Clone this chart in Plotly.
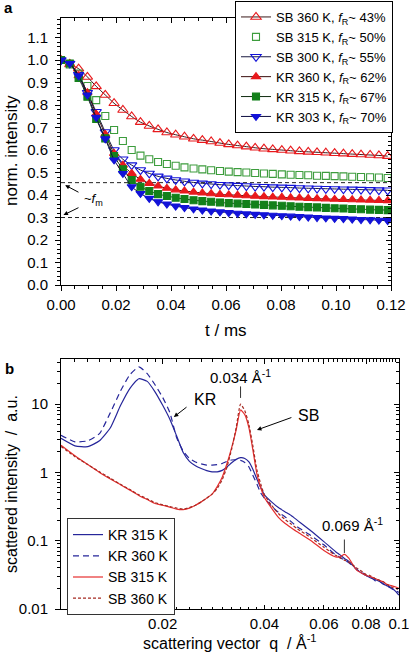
import numpy as np
import plotly.graph_objects as go

W, H = 409, 660
FONT = "Arial, 'Liberation Sans', sans-serif"

# ---------------- panel a : decay curves ----------------
t_ms = [0.0, 0.0032, 0.0064, 0.0096, 0.0128, 0.0161, 0.0193, 0.0225, 0.0257, 0.0289,
        0.0321, 0.0353, 0.0385, 0.0417, 0.0449, 0.0482, 0.0514, 0.0546, 0.0578, 0.061,
        0.0642, 0.0674, 0.0706, 0.0738, 0.077, 0.0803, 0.0835, 0.0867, 0.0899, 0.0931,
        0.0963, 0.0995, 0.1027, 0.1059, 0.1091, 0.1124, 0.1156, 0.1188]

sb360_a = [1.000, 0.980, 0.962, 0.925, 0.883, 0.845, 0.808, 0.778, 0.749, 0.724,
           0.707, 0.692, 0.678, 0.668, 0.659, 0.650, 0.644, 0.638, 0.631, 0.625,
           0.620, 0.615, 0.610, 0.606, 0.603, 0.600, 0.597, 0.594, 0.592, 0.590,
           0.588, 0.586, 0.584, 0.582, 0.580, 0.578, 0.576, 0.573]
sb315_a = [1.000, 0.980, 0.940, 0.885, 0.822, 0.751, 0.689, 0.640, 0.600, 0.575,
           0.559, 0.547, 0.538, 0.530, 0.523, 0.518, 0.514, 0.510, 0.507, 0.504,
           0.502, 0.500, 0.498, 0.496, 0.494, 0.492, 0.490, 0.489, 0.488, 0.486,
           0.485, 0.484, 0.483, 0.481, 0.480, 0.479, 0.478, 0.476]
sb300_a = [1.000, 0.985, 0.935, 0.855, 0.770, 0.680, 0.600, 0.559, 0.533, 0.511,
           0.496, 0.483, 0.474, 0.467, 0.461, 0.456, 0.452, 0.449, 0.446, 0.444,
           0.442, 0.440, 0.438, 0.437, 0.435, 0.434, 0.433, 0.431, 0.430, 0.429,
           0.428, 0.427, 0.426, 0.425, 0.424, 0.423, 0.422, 0.421]
kr360_a = [1.000, 0.985, 0.930, 0.855, 0.760, 0.670, 0.585, 0.533, 0.496, 0.470,
           0.452, 0.440, 0.430, 0.423, 0.418, 0.413, 0.409, 0.406, 0.403, 0.401,
           0.399, 0.397, 0.395, 0.393, 0.391, 0.390, 0.388, 0.387, 0.385, 0.384,
           0.383, 0.381, 0.380, 0.379, 0.378, 0.377, 0.376, 0.375]
kr315_a = [1.000, 0.985, 0.920, 0.837, 0.738, 0.652, 0.573, 0.514, 0.467, 0.437,
           0.418, 0.404, 0.396, 0.388, 0.382, 0.377, 0.373, 0.370, 0.367, 0.364,
           0.362, 0.360, 0.358, 0.356, 0.354, 0.352, 0.350, 0.348, 0.346, 0.345,
           0.343, 0.341, 0.340, 0.338, 0.337, 0.335, 0.334, 0.333]
kr303_a = [1.000, 0.985, 0.930, 0.845, 0.745, 0.650, 0.556, 0.496, 0.437, 0.407,
           0.385, 0.370, 0.360, 0.351, 0.344, 0.338, 0.333, 0.329, 0.325, 0.322,
           0.319, 0.316, 0.314, 0.312, 0.310, 0.308, 0.306, 0.304, 0.302, 0.300,
           0.298, 0.296, 0.295, 0.293, 0.291, 0.290, 0.288, 0.286]

legend_a = ["SB 360 K, <i>f</i><sub>R</sub>~ 43%", "SB 315 K, <i>f</i><sub>R</sub>~ 50%",
            "SB 300 K, <i>f</i><sub>R</sub>~ 55%", "KR 360 K, <i>f</i><sub>R</sub>~ 62%",
            "KR 315 K, <i>f</i><sub>R</sub>~ 67%", "KR 303 K, <i>f</i><sub>R</sub>~ 70%"]
fm_upper = 0.455
fm_lower = 0.30
t_ticks = [0.00, 0.02, 0.04, 0.06, 0.08, 0.10, 0.12]

# ---------------- panel b : scattering ----------------
q = [0.010, 0.011, 0.012, 0.013, 0.014, 0.015, 0.016, 0.017, 0.018, 0.019,
     0.020, 0.021, 0.022, 0.023, 0.024, 0.025, 0.026, 0.027, 0.028, 0.029,
     0.030, 0.031, 0.032, 0.033, 0.034, 0.035, 0.036, 0.037, 0.038, 0.039,
     0.040, 0.042, 0.044, 0.046, 0.048, 0.050, 0.055, 0.060, 0.065, 0.067,
     0.069, 0.071, 0.075, 0.078, 0.080, 0.082, 0.085, 0.088, 0.090, 0.092,
     0.095, 0.098, 0.100]
kr315_b = [3.15, 2.45, 2.38, 2.9, 4.5, 9.5, 17.0, 23.5, 21.5, 15.0,
           9.6, 6.0, 3.4, 1.95, 1.45, 1.25, 1.14, 1.06, 1.02, 1.02,
           1.07, 1.2, 1.38, 1.55, 1.64, 1.6, 1.42, 1.1, 0.8, 0.6,
           0.47, 0.37, 0.305, 0.266, 0.234, 0.2, 0.139, 0.097, 0.069, 0.062,
           0.055, 0.05, 0.038, 0.033, 0.031, 0.029, 0.027, 0.025, 0.0235, 0.022,
           0.0205, 0.018, 0.016]
kr360_b = [3.5, 2.8, 2.9, 3.7, 7.5, 15.5, 27.0, 35.0, 28.0, 19.0,
           12.5, 7.5, 3.2, 2.05, 1.6, 1.42, 1.33, 1.28, 1.28, 1.3,
           1.35, 1.45, 1.52, 1.53, 1.5, 1.4, 1.2, 0.9, 0.68, 0.5,
           0.42, 0.32, 0.26, 0.225, 0.19, 0.16, 0.118, 0.087, 0.062, 0.057,
           0.052, 0.048, 0.038, 0.034, 0.031, 0.030, 0.026, 0.025, 0.023, 0.022,
           0.020, 0.0185, 0.0175]
sb315_b = [2.5, 1.75, 1.3, 1.0, 0.8, 0.66, 0.55, 0.46, 0.4, 0.35,
           0.33, 0.31, 0.29, 0.285, 0.3, 0.33, 0.37, 0.42, 0.48, 0.62,
           0.85, 1.35, 2.3, 4.2, 8.2, 7.0, 4.5, 2.1, 0.95, 0.6,
           0.43, 0.3, 0.22, 0.18, 0.155, 0.135, 0.1, 0.072, 0.058, 0.058,
           0.063, 0.056, 0.037, 0.033, 0.031, 0.030, 0.028, 0.026, 0.025, 0.023,
           0.022, 0.021, 0.020]
sb360_b = [2.4, 1.7, 1.3, 1.02, 0.82, 0.67, 0.56, 0.47, 0.41, 0.36,
           0.335, 0.315, 0.3, 0.29, 0.305, 0.33, 0.37, 0.42, 0.48, 0.58,
           0.78, 1.2, 2.2, 4.5, 10.0, 8.0, 5.0, 2.4, 1.1, 0.68,
           0.47, 0.33, 0.25, 0.205, 0.175, 0.15, 0.11, 0.08, 0.061, 0.056,
           0.052, 0.049, 0.040, 0.035, 0.032, 0.031, 0.028, 0.026, 0.025, 0.023,
           0.021, 0.020, 0.019]
legend_b = ["KR 315 K", "KR 360 K", "SB 315 K", "SB 360 K"]
q_ticks = [0.02, 0.04, 0.06, 0.08, 0.1]
q_ticktext = ["0.02", "0.04", "0.06", "0.08", "0.1"]
i_ticks = [0.01, 0.1, 1, 10]
i_ticktext = ["0.01", "0.1", "1", "10"]
peak1_q, peak2_q = 0.034, 0.069


def px(x):
    return x / W


def py(y):
    return 1 - y / H


fig = go.Figure()

# dashed f_m guide lines
for lvl in (fm_upper, fm_lower):
    fig.add_trace(go.Scatter(x=[t_ticks[0], t_ticks[-1]], y=[lvl, lvl], mode="lines",
                             line=dict(color="#222", width=1, dash="4px,3px"),
                             showlegend=False, hoverinfo="skip"))

red, green_o, green_f, blue = "#e8191c", "#3c9c3c", "#13801a", "#1212d8"
styles_a = [
    (sb360_a, "triangle-up-open", red, "lines+markers", "#3a1a1a", 9),
    (sb315_a, "square-open", green_o, "markers", "#000", 7),
    (sb300_a, "triangle-down-open", blue, "lines+markers", "#1a1a40", 9),
    (kr360_a, "triangle-up", red, "lines+markers", "#3a0c0c", 8),
    (kr315_a, "square", green_f, "lines+markers", "#0f2a0f", 7),
    (kr303_a, "triangle-down", blue, "lines+markers", "#0c0c40", 8),
]
for i, (vals, sym, col, mode, lcol, size) in enumerate(styles_a):
    fig.add_trace(go.Scatter(
        x=t_ms, y=vals, mode=mode, name=legend_a[i], legendgroup="a%d" % i,
        line=dict(color=lcol, width=1, shape="spline", smoothing=0.6),
        marker=dict(symbol=sym, color=col, size=size, line=dict(color=col, width=1.1)),
        xaxis="x", yaxis="y", legend="legend"))

blue_b, red_b, dred_b = "#26269a", "#e62e2e", "#a52a22"
styles_b = [
    (kr315_b, blue_b, "solid"),
    (kr360_b, blue_b, "6px,4px"),
    (sb315_b, red_b, "solid"),
    (sb360_b, dred_b, "3px,2px"),
]
for i, (vals, col, dash) in enumerate(styles_b):
    fig.add_trace(go.Scatter(
        x=q, y=vals, mode="lines", name=legend_b[i], legendgroup="b%d" % i,
        line=dict(color=col, width=1.2, dash=dash, shape="spline", smoothing=0.5),
        xaxis="x2", yaxis="y2", legend="legend2"))

# dummy traces for mirrored (inside-tick) top/right axes
fig.add_trace(go.Scatter(x=[None], y=[None], xaxis="x3", yaxis="y3", showlegend=False, hoverinfo="skip"))
fig.add_trace(go.Scatter(x=[None], y=[None], xaxis="x4", yaxis="y4", showlegend=False, hoverinfo="skip"))

tickfont = dict(size=15, family=FONT, color="black")
common = dict(showline=True, linecolor="black", linewidth=1, showgrid=False, zeroline=False,
              tickcolor="black", tickfont=tickfont, automargin=False)

dom_xa = [px(61), px(391)]
dom_ya = [py(285), py(18)]
dom_xb = [px(61), px(399)]
dom_yb = [py(609), py(359)]
xr_b = [-2, -0.9995]
yr_b = [-2, 1.66]

q_minor = [round(0.010 + 0.001 * k, 4) for k in range(1, 10)] + \
          [round(0.020 + 0.002 * k, 4) for k in range(1, 40) if round(0.020 + 0.002 * k, 4) not in q_ticks]
i_minor = [m * 10 ** e for e in (-2, -1, 0, 1) for m in range(2, 10)]

fig.update_layout(
    width=W, height=H, margin=dict(l=0, r=0, t=0, b=0, autoexpand=False),
    paper_bgcolor="white", plot_bgcolor="white",
    font=dict(family=FONT, color="black"),
    showlegend=True,
    xaxis=dict(domain=dom_xa, anchor="y", range=[0, 0.12], tickvals=t_ticks, tickformat=".2f",
               ticks="outside", ticklen=5, ticklabelstandoff=1, ticklabeloverflow="allow",
               minor=dict(dtick=0.005, tick0=0, ticks="outside", ticklen=3, tickcolor="black"),
               **common),
    yaxis=dict(domain=dom_ya, anchor="x", range=[0, 1.187], dtick=0.1, tick0=0, tickformat=".1f",
               ticks="outside", ticklen=5, ticklabelstandoff=4,
               minor=dict(dtick=0.02, tick0=0, ticks="outside", ticklen=3, tickcolor="black"),
               **common),
    xaxis3=dict(overlaying="x", anchor="y3", side="top", range=[0, 0.12], tickvals=t_ticks,
                showticklabels=False, ticks="inside", ticklen=5,
                minor=dict(dtick=0.005, tick0=0, ticks="inside", ticklen=3, tickcolor="black"), **common),
    yaxis3=dict(overlaying="y", anchor="x3", side="right", range=[0, 1.187], dtick=0.1, tick0=0,
                showticklabels=False, ticks="inside", ticklen=5,
                minor=dict(dtick=0.02, tick0=0, ticks="inside", ticklen=3, tickcolor="black"), **common),
    xaxis2=dict(domain=dom_xb, anchor="y2", type="log", range=xr_b, tickvals=q_ticks, ticktext=q_ticktext,
                ticks="inside", ticklen=4, ticklabelstandoff=1, ticklabeloverflow="allow",
                minor=dict(tickmode="array", tickvals=q_minor, ticks="inside", ticklen=2, tickcolor="black"),
                **common),
    yaxis2=dict(domain=dom_yb, anchor="x2", type="log", range=yr_b, tickvals=i_ticks, ticktext=i_ticktext,
                ticks="outside", ticklen=5, ticklabelstandoff=4,
                minor=dict(tickmode="array", tickvals=i_minor, ticks="outside", ticklen=3, tickcolor="black"),
                **common),
    xaxis4=dict(overlaying="x2", anchor="y4", side="top", type="log", range=xr_b, tickvals=q_ticks,
                showticklabels=False, ticks="inside", ticklen=5,
                minor=dict(tickmode="array", tickvals=q_minor, ticks="inside", ticklen=3, tickcolor="black"),
                **common),
    yaxis4=dict(overlaying="y2", anchor="x4", side="right", type="log", range=yr_b, tickvals=i_ticks,
                showticklabels=False, ticks="inside", ticklen=5,
                minor=dict(tickmode="array", tickvals=i_minor, ticks="inside", ticklen=3, tickcolor="black"),
                **common),
    legend=dict(x=px(235), y=py(1), xanchor="left", yanchor="top", bgcolor="white",
                bordercolor="black", borderwidth=1, tracegroupgap=0, itemwidth=30,
                font=dict(size=13, family=FONT, color="black")),
    legend2=dict(x=px(67), y=py(518), xanchor="left", yanchor="top", bgcolor="white",
                 bordercolor="#333", borderwidth=1, tracegroupgap=0, itemwidth=30,
                 font=dict(size=14, family=FONT, color="black")),
)

ann = []


def paper_text(text, x, y, size, angle=0, xanchor="center"):
    ann.append(dict(text=text, x=px(x), y=py(y), xref="paper", yref="paper", xanchor=xanchor,
                    yanchor="middle", textangle=angle, showarrow=False, font=dict(size=size)))


# panel labels and axis titles
paper_text("<b>a</b>", 2, 8, 15, xanchor="left")
paper_text("<b>b</b>", 3, 368, 15, xanchor="left")
paper_text("norm. intensity", 12, 151, 17, angle=-90)
paper_text("t / ms", 226, 330, 17)
paper_text("scattered intensity  /  a.u.", 12, 484, 16, angle=-90)
paper_text("scattering vector  q  / Å<sup>-1</sup>", 230, 642, 16)

# f_m marker in panel a
ann.append(dict(text="~<i>f</i><sub>m</sub>", x=0.0078, y=0.378, xref="x", yref="y", xanchor="left",
                yanchor="middle", showarrow=False, font=dict(size=13)))
for (hx, hy, tx, ty) in [(0.0015, fm_upper - 0.011, 0.0069, 0.409), (0.0009, fm_lower + 0.011, 0.0069, 0.347)]:
    ann.append(dict(text="", x=hx, y=hy, ax=tx, ay=ty, xref="x", yref="y", axref="x", ayref="y",
                    showarrow=True, arrowhead=2, arrowsize=0.9, arrowwidth=1, arrowcolor="black"))

# panel b labels (log axes -> log10 coordinates)
lq1, lq2 = np.log10(peak1_q), np.log10(peak2_q)
ann.append(dict(text="0.034 Å<sup>-1</sup>", x=lq1, y=1.40, xref="x2", yref="y2", showarrow=False,
                font=dict(size=15)))
ann.append(dict(text="", x=lq1, y=1.09, xref="x2", yref="y2", ax=0, ay=-13, showarrow=True,
                arrowhead=0, arrowwidth=1, arrowcolor="#333"))
ann.append(dict(text="0.069 Å<sup>-1</sup>", x=-1.136, y=-0.77, xref="x2", yref="y2", showarrow=False,
                font=dict(size=15)))
ann.append(dict(text="", x=lq2, y=-1.18, ax=0, ay=-15, xref="x2", yref="y2", showarrow=True,
                arrowhead=0, arrowwidth=1, arrowcolor="#333"))
ann.append(dict(text="KR", x=-1.575, y=1.06, xref="x2", yref="y2", showarrow=False, font=dict(size=16)))
ann.append(dict(text="", x=-1.666, y=0.811, ax=-1.624, ay=0.972, xref="x2", yref="y2", axref="x2",
                ayref="y2", showarrow=True, arrowhead=2, arrowsize=0.9, arrowwidth=1, arrowcolor="black"))
ann.append(dict(text="SB", x=-1.268, y=0.84, xref="x2", yref="y2", showarrow=False, font=dict(size=16)))
ann.append(dict(text="", x=-1.420, y=0.621, ax=-1.3136, ay=0.811, xref="x2", yref="y2", axref="x2",
                ayref="y2", showarrow=True, arrowhead=2, arrowsize=0.9, arrowwidth=1, arrowcolor="black"))

fig.update_layout(annotations=ann)
fig.write_html("out.html", config={"displayModeBar": False},
               post_script="document.body.style.margin='0px';document.body.style.padding='0px';")
